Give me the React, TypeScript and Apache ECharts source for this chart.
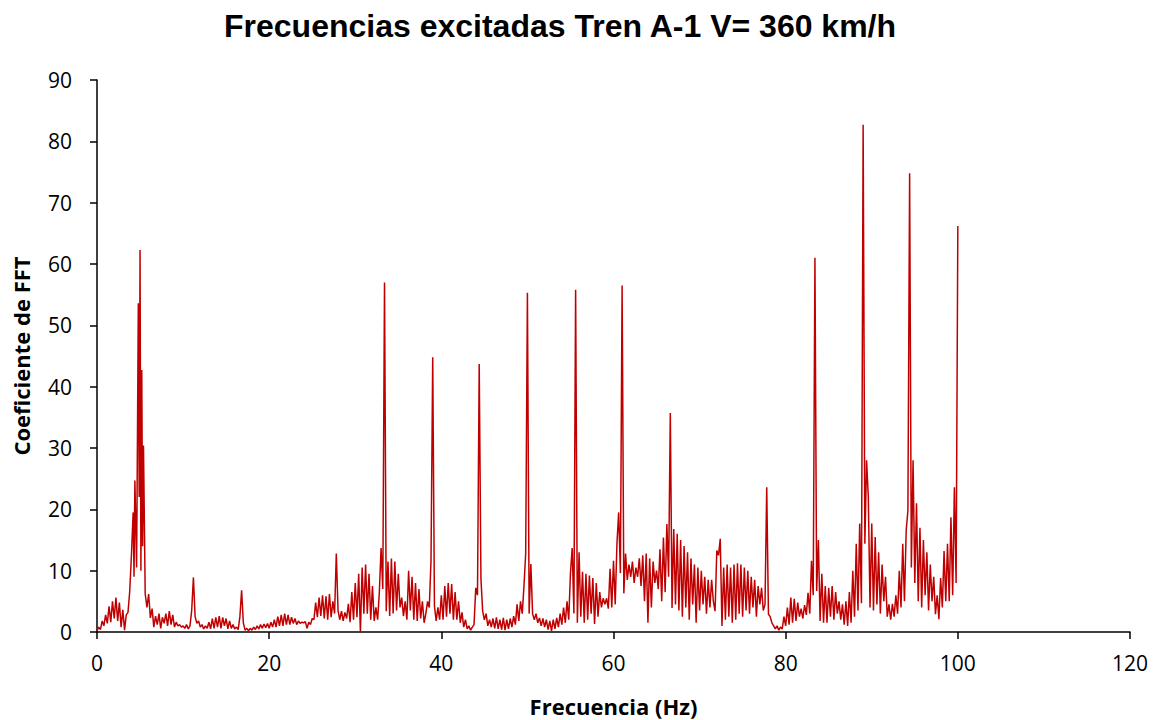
import React, { useEffect, useRef } from "react";
import * as echarts from "echarts";

const TITLE = "Frecuencias excitadas Tren A-1 V= 360 km/h";
const X_NAME = "Frecuencia (Hz)";
const Y_NAME = "Coeficiente de FFT";
const X_TICKS = { min: 0, max: 120, interval: 20 };
const Y_TICKS = { min: 0, max: 90, interval: 10 };

// FFT coefficient sampled every 0.2 Hz
const FREQ_STEP = 0.2;

const coef0to20 = [
  0.2, 0.8, 0.4, 1.8, 1.0, 2.8, 1.4, 4.2, 1.6, 5.0,
  2.2, 5.6, 1.8, 4.8, 0.8, 3.6, 0.3, 2.8, 3.2, 6.6,
  12.5, 19.5, 24.7, 10.5, 53.6, 62.3, 42.7, 30.4, 6.2, 4.0,
  6.2, 2.3, 3.8, 0.8, 2.6, 1.2, 3.0, 0.6, 2.4, 1.4,
  3.0, 1.0, 3.4, 1.2, 2.8, 0.8, 1.6, 1.0, 1.2, 0.8,
  1.0, 0.6, 1.2, 0.5, 1.0, 3.5, 8.9, 2.5, 1.4, 1.8,
  0.8, 1.2, 0.5, 1.0, 0.6, 1.6, 0.5, 2.2, 0.6, 2.4,
  0.8, 2.6, 0.6, 2.4, 1.0, 2.2, 0.5, 1.8, 0.6, 1.2,
  0.5, 0.8, 0.4, 2.5, 6.8, 1.5, 0.3, 0.6, 0.2, 0.6,
  0.3, 0.8, 0.4, 1.0, 0.5, 1.2, 0.6, 1.3, 0.7, 1.4,
];

const coef20to40 = [
  0.6, 1.6, 0.8, 2.0, 0.8, 2.5, 1.0, 2.8, 1.0, 3.0,
  1.2, 2.8, 1.2, 2.4, 1.4, 2.2, 1.2, 1.8, 1.4, 1.6,
  1.5, 1.7, 0.6, 1.6, 1.2, 2.2, 2.0, 4.8, 2.4, 5.6,
  2.6, 6.0, 2.2, 5.8, 2.0, 6.2, 2.4, 5.0, 3.0, 12.8,
  3.5, 2.0, 3.4, 1.8, 3.2, 2.2, 4.6, 1.6, 6.5, 2.0,
  8.0, 2.4, 9.5, 0.0, 10.5, 3.0, 11.0, 3.0, 9.5, 2.0,
  7.5, 1.8, 4.0, 2.0, 6.5, 13.7, 7.0, 57.0, 3.4, 11.5,
  2.6, 12.0, 3.0, 11.5, 3.5, 9.5, 4.0, 5.6, 2.6, 5.0,
  2.0, 10.0, 3.5, 9.0, 2.0, 8.0, 1.8, 7.0, 2.2, 5.0,
  1.5, 3.0, 5.0, 4.0, 11.6, 44.8, 4.2, 1.8, 4.0, 2.0,
];

const coef40to60 = [
  6.0, 2.0, 7.5, 2.5, 8.0, 3.0, 7.8, 2.0, 6.5, 2.0,
  5.0, 1.5, 3.2, 0.8, 2.0, 0.5, 1.0, 0.3, 0.8, 1.2,
  7.2, 6.0, 43.7, 8.7, 3.4, 2.0, 3.0, 1.0, 2.0, 0.8,
  2.2, 0.6, 2.4, 0.5, 2.0, 0.4, 2.3, 0.3, 2.0, 0.5,
  2.2, 0.8, 2.6, 1.2, 4.5, 1.8, 5.0, 3.0, 7.5, 12.8,
  55.3, 3.0, 11.1, 3.0, 2.0, 3.0, 1.5, 2.3, 1.0, 2.2,
  0.8, 2.0, 0.4, 1.8, 0.2, 2.0, 0.5, 2.3, 0.8, 3.0,
  1.2, 4.0, 1.5, 5.0, 2.0, 9.6, 13.7, 3.0, 55.8, 1.5,
  13.0, 2.5, 9.8, 1.5, 9.5, 2.0, 9.2, 3.0, 8.8, 1.3,
  8.0, 2.5, 6.5, 4.0, 5.5, 4.5, 5.5, 3.8, 10.3, 4.0,
];

const coef60to80 = [
  11.6, 4.5, 14.4, 19.5, 9.6, 56.5, 6.3, 12.8, 8.5, 11.0,
  9.0, 11.5, 8.0, 10.5, 9.0, 12.0, 7.5, 12.5, 5.0, 12.8,
  1.5, 12.0, 4.0, 11.5, 8.0, 10.0, 7.0, 13.5, 5.0, 15.4,
  6.5, 17.6, 9.0, 35.7, 3.9, 16.8, 4.5, 16.0, 3.5, 15.0,
  2.5, 14.0, 4.0, 13.0, 2.0, 12.0, 4.5, 11.0, 1.5, 10.5,
  3.5, 10.0, 4.5, 9.0, 3.0, 8.5, 4.0, 8.5, 5.0, 3.4,
  13.3, 12.5, 15.2, 1.0, 10.5, 2.0, 11.0, 2.5, 10.5, 1.5,
  11.0, 2.0, 11.2, 3.0, 11.0, 2.5, 10.5, 3.5, 10.0, 3.0,
  9.0, 4.0, 8.5, 2.5, 7.5, 4.5, 7.2, 3.5, 4.5, 23.6,
  2.9, 2.5, 1.5, 1.0, 0.5, 1.0, 0.3, 0.8, 0.5, 2.5,
];

const coef80to100 = [
  1.0, 4.0, 1.2, 5.6, 1.5, 5.4, 1.8, 4.8, 2.5, 3.8,
  2.2, 4.4, 2.8, 6.4, 3.0, 11.6, 6.0, 61.0, 6.7, 15.0,
  1.8, 9.5, 1.5, 7.5, 1.5, 7.2, 2.5, 7.5, 2.0, 6.5,
  3.0, 5.0, 2.0, 4.5, 1.2, 5.0, 1.0, 6.5, 1.5, 10.0,
  2.5, 14.4, 3.5, 17.7, 4.7, 82.7, 14.4, 28.0, 22.0, 4.0,
  17.7, 3.5, 15.5, 4.5, 13.0, 3.0, 11.0, 5.0, 9.0, 2.5,
  4.5, 2.0, 4.6, 2.5, 6.0, 3.0, 10.0, 4.0, 14.4, 5.0,
  16.5, 19.8, 74.8, 10.5, 28.0, 8.0, 21.0, 5.0, 17.0, 4.0,
  15.0, 6.0, 13.0, 3.5, 11.0, 5.0, 9.0, 2.9, 6.0, 2.1,
  8.8, 4.0, 13.2, 5.0, 14.4, 5.0, 18.7, 6.0, 23.6, 8.0,
  66.2,
];

// additional samples inside the 5 Hz cluster (valleys between the sharp lines)
const extraFreq = [4.3, 4.9, 5.1, 5.3];
const extraCoef = [9.0, 22.0, 10.0, 14.0];

const LINE_COLOR = "#C00000";

export default function App() {
  const ref = useRef<HTMLDivElement>(null);

  useEffect(() => {
    if (!ref.current) return;
    const chart = echarts.init(ref.current, null, { renderer: "svg" });

    const all = [...coef0to20, ...coef20to40, ...coef40to60, ...coef60to80, ...coef80to100];
    const points: [number, number][] = all.map((v, i) => [Math.round(i * FREQ_STEP * 10) / 10, v]);
    extraFreq.forEach((f, i) => points.push([f, extraCoef[i]]));
    points.sort((a, b) => a[0] - b[0]);

    const axisText = { fontFamily: "Open Sans", fontSize: 21, color: "#000" };

    chart.setOption({
      animation: false,
      backgroundColor: "#fff",
      title: {
        text: TITLE,
        left: 219,
        top: 5,
        textStyle: {
          fontFamily: "Liberation Sans",
          fontWeight: "bold",
          fontSize: 32,
          color: "#000",
        },
      },
      grid: {
        left: 97,
        right: 36,
        top: 80,
        bottom: 88,
        containLabel: false,
        outerBoundsMode: "none",
      },
      xAxis: {
        type: "value",
        min: X_TICKS.min,
        max: X_TICKS.max,
        interval: X_TICKS.interval,
        name: X_NAME,
        nameLocation: "middle",
        nameGap: 63,
        nameTextStyle: { fontFamily: "Open Sans", fontWeight: "bold", fontSize: 22, color: "#000" },
        axisLine: { lineStyle: { color: "#000", width: 1.5 } },
        axisTick: { show: true, inside: false, length: 7, lineStyle: { color: "#000", width: 1.5 } },
        axisLabel: { ...axisText, margin: 20 },
        splitLine: { show: false },
      },
      yAxis: {
        type: "value",
        min: Y_TICKS.min,
        max: Y_TICKS.max,
        interval: Y_TICKS.interval,
        name: Y_NAME,
        nameLocation: "middle",
        nameGap: 65,
        nameTextStyle: { fontFamily: "Open Sans", fontWeight: "bold", fontSize: 22, color: "#000" },
        axisLine: { show: true, lineStyle: { color: "#000", width: 1.5 } },
        axisTick: { show: true, inside: false, length: 7, lineStyle: { color: "#000", width: 1.5 } },
        axisLabel: { ...axisText, margin: 25 },
        splitLine: { show: false },
      },
      series: [
        {
          type: "line",
          data: points,
          showSymbol: false,
          symbol: "none",
          lineStyle: { color: LINE_COLOR, width: 1.5 },
          itemStyle: { color: LINE_COLOR },
        },
      ],
    });

    return () => chart.dispose();
  }, []);

  return (
    <div
      ref={ref}
      style={{ position: "fixed", left: 0, top: 0, width: 1166, height: 720, background: "#fff" }}
    />
  );
}
